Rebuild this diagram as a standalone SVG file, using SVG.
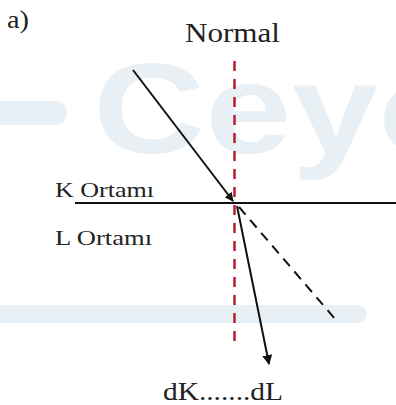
<svg xmlns="http://www.w3.org/2000/svg" width="396" height="405" viewBox="0 0 396 405">
<style>
.wm{fill:#e8f0f6}
.lbl{font-family:"Liberation Serif","DejaVu Serif",serif;fill:#222}
.ray{stroke:#111;stroke-width:2;fill:none}
</style>
<defs>
<marker id="ah" viewBox="0 0 10 10" refX="9" refY="5" markerWidth="9" markerHeight="9" markerUnits="userSpaceOnUse" orient="auto">
<path d="M0,0 L10,5 L0,10 z" fill="#111"/>
</marker>
<marker id="ah2" viewBox="0 0 10 10" refX="9" refY="5" markerWidth="10" markerHeight="10" markerUnits="userSpaceOnUse" orient="auto">
<path d="M0,0 L10,5 L0,10 z" fill="#111"/>
</marker>
</defs>
<rect width="396" height="405" fill="#fff"/>
<g id="watermark">
<rect x="-10" y="101" width="77" height="24" rx="12" class="wm"/>
<text x="93" y="153" font-family="Liberation Sans, Arial, sans-serif" font-weight="bold" font-size="128" textLength="380" lengthAdjust="spacingAndGlyphs" class="wm">Ceyo</text>
<rect x="-10" y="305" width="377" height="18" rx="9" class="wm"/>
</g>
<g id="label-a"><text x="7" y="28" class="lbl" font-size="26" textLength="22" lengthAdjust="spacingAndGlyphs">a)</text></g>
<g id="label-normal"><text x="185" y="42" class="lbl" font-size="28" textLength="95" lengthAdjust="spacingAndGlyphs">Normal</text></g>
<g id="label-k"><text x="55" y="197" class="lbl" font-size="22" textLength="99" lengthAdjust="spacingAndGlyphs">K Ortamı</text></g>
<g id="label-l"><text x="55" y="245" class="lbl" font-size="22" textLength="97" lengthAdjust="spacingAndGlyphs">L Ortamı</text></g>
<g id="label-d"><text x="163" y="400" class="lbl" font-size="25" textLength="120" lengthAdjust="spacingAndGlyphs">dK.......dL</text></g>
<g id="connectors">
<line x1="75" y1="203" x2="396" y2="203" stroke="#111" stroke-width="2"/>
<line x1="234.5" y1="61" x2="234.5" y2="348" stroke="#b3202e" stroke-width="2.5" stroke-dasharray="10 8"/>
<line x1="133" y1="70" x2="233" y2="201" class="ray" marker-end="url(#ah)"/>
<line x1="237" y1="206" x2="269" y2="364" class="ray" marker-end="url(#ah2)"/>
<line x1="239" y1="207" x2="336" y2="320" stroke="#111" stroke-width="2" stroke-dasharray="10 7"/>
</g>
</svg>
